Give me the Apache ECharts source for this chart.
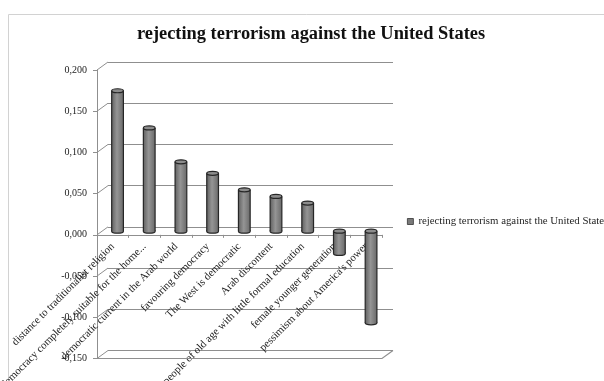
<!DOCTYPE html>
<html>
<head>
<meta charset="utf-8">
<script src="https://cdn.jsdelivr.net/npm/echarts@6/dist/echarts.min.js"></script>
<style>
  html, body { margin: 0; padding: 0; background: #fff; }
  #chart { width: 604px; height: 381px; }
</style>
</head>
<body>
<div id="chart"></div>
<script>
// Data
const categories = [
  'distance to traditionalist religion',
  'democracy completely suitable for the home...',
  'democratic current in the Arab world',
  'favouring democracy',
  'The West is democratic',
  'Arab discontent',
  'people of old age with little formal education',
  'female younger generation',
  "pessimism about America's power"
];
const values = [0.170, 0.125, 0.084, 0.070, 0.050, 0.042, 0.034, -0.027, -0.111];
const seriesName = 'rejecting terrorism against the United States';
const chartTitle = 'rejecting terrorism against the United States';
const yTicks = [-0.15, -0.10, -0.05, 0, 0.05, 0.10, 0.15, 0.20];

// 3D box layout: back wall, bar plane (mid depth) and front plane
const Y_MIN = -0.15, Y_MAX = 0.20, Y_STEP = 0.05;
const back  = { left: 108,   top: 62, width: 285,   height: 288.5 };
const mid   = { left: 101.7, top: 66, width: 285.2, height: 289 };
const front = { left: 97,    top: 70, width: 285,   height: 288.5 };
// upper part of the front plane (max down to zero): carries the category axis
const frontUpper = {
  left: front.left, top: front.top, width: front.width,
  height: front.height * Y_MAX / (Y_MAX - Y_MIN)
};

const SERIF = '"Liberation Serif", "DejaVu Serif", serif';
const GRID_COLOR = '#8f8f8f';

const chart = echarts.init(document.getElementById('chart'), null, { renderer: 'canvas' });

function gridOf(rect) {
  return Object.assign({ containLabel: false, outerBoundsMode: 'none' }, rect);
}

function valueAxis(gridIdx, extra) {
  return Object.assign({
    type: 'value', gridIndex: gridIdx, min: Y_MIN, max: Y_MAX, interval: Y_STEP,
    axisLine: { show: false }, axisTick: { show: false },
    axisLabel: { show: false }, splitLine: { show: false }
  }, extra || {});
}

function cylinder(params, api) {
  const i = api.value(0);
  const v = api.value(1);
  const pv = api.coord([i, v]);
  const p0 = api.coord([i, 0]);
  const w = api.size([1, 0])[0] * 0.37;
  const rx = w / 2, ry = 2;
  const cx = pv[0];
  const yTop = Math.min(pv[1], p0[1]);
  const yBot = Math.max(pv[1], p0[1]);
  const body = new echarts.graphic.LinearGradient(0, 0, 1, 0, [
    { offset: 0, color: '#626262' },
    { offset: 0.45, color: '#959595' },
    { offset: 1, color: '#6a6a6a' }
  ]);
  return {
    type: 'group',
    children: [
      { type: 'ellipse', shape: { cx: cx, cy: yBot, rx: rx, ry: ry },
        style: { fill: body, stroke: '#262626', lineWidth: 1.2 } },
      { type: 'rect', shape: { x: cx - rx, y: yTop, width: w, height: yBot - yTop },
        style: { fill: body } },
      { type: 'line', shape: { x1: cx - rx, y1: yTop, x2: cx - rx, y2: yBot },
        style: { stroke: '#262626', lineWidth: 1.2 } },
      { type: 'line', shape: { x1: cx + rx, y1: yTop, x2: cx + rx, y2: yBot },
        style: { stroke: '#262626', lineWidth: 1.2 } },
      { type: 'ellipse', shape: { cx: cx, cy: yTop, rx: rx, ry: ry },
        style: { fill: '#8c8c8c', stroke: '#262626', lineWidth: 1.2 } }
    ]
  };
}

chart.setOption({
  animation: false,
  backgroundColor: '#ffffff',
  grid: [gridOf(back), gridOf(mid), gridOf(front), gridOf(frontUpper)],
  xAxis: [
    { type: 'category', gridIndex: 0, data: categories, show: false },
    { type: 'category', gridIndex: 1, data: categories, show: false },
    { type: 'category', gridIndex: 2, data: categories, show: false },
    {
      type: 'category', gridIndex: 3, data: categories, position: 'bottom',
      axisLine: { show: true, onZero: false, lineStyle: { color: GRID_COLOR, width: 1 } },
      axisTick: { show: true, length: 3, lineStyle: { color: GRID_COLOR } },
      axisLabel: {
        interval: 0, rotate: 45, margin: 10,
        fontFamily: SERIF, fontSize: 10.8, color: '#1e1e1e'
      },
      splitLine: { show: false }
    }
  ],
  yAxis: [
    valueAxis(0, { splitLine: { show: true, lineStyle: { color: GRID_COLOR, width: 1 } } }),
    valueAxis(1),
    valueAxis(2, {
      axisLine: { show: true, lineStyle: { color: GRID_COLOR, width: 1 } },
      axisTick: { show: true, inside: false, length: 4, lineStyle: { color: GRID_COLOR } },
      axisLabel: {
        show: true, margin: 10, fontFamily: SERIF, fontSize: 10, color: '#222',
        formatter: function (v) { return v.toFixed(3).replace('.', ','); }
      }
    }),
    { type: 'value', gridIndex: 3, min: 0, max: Y_MAX, show: false, splitLine: { show: false } }
  ],
  legend: {
    show: true,
    left: 402, top: 211,
    icon: 'rect', itemWidth: 6, itemHeight: 6,
    textStyle: { fontFamily: SERIF, fontSize: 10.8, color: '#1e1e1e' },
    data: [{ name: seriesName, itemStyle: { color: '#7a7a7a', borderColor: '#333', borderWidth: 0.8 } }]
  },
  series: [{
    name: seriesName,
    type: 'custom',
    xAxisIndex: 1, yAxisIndex: 1,
    renderItem: cylinder,
    itemStyle: { color: '#7a7a7a' },
    data: values.map(function (v, i) { return [i, v]; }),
    z: 5
  }]
});

// Depth edges of the box: left wall diagonals, floor and outer frame
const decor = [];
decor.push({
  type: 'rect', z: -1, silent: true,
  shape: { x: 8.5, y: 14.5, width: 700, height: 500 },
  style: { fill: 'none', stroke: '#d2d2d2', lineWidth: 1 }
});
decor.push({
  type: 'text', z: 10, silent: true,
  style: {
    text: chartTitle, x: 311, y: 34, textAlign: 'center', textVerticalAlign: 'middle',
    font: 'bold 18.4px ' + SERIF, fill: '#111'
  }
});
yTicks.forEach(function (t) {
  const yf = chart.convertToPixel({ yAxisIndex: 2 }, t);
  const yb = chart.convertToPixel({ yAxisIndex: 0 }, t);
  decor.push({
    type: 'line', z: 1, silent: true,
    shape: { x1: front.left, y1: yf, x2: back.left, y2: yb },
    style: { stroke: GRID_COLOR, lineWidth: 1 }
  });
});
const yfMin = chart.convertToPixel({ yAxisIndex: 2 }, Y_MIN);
const ybMin = chart.convertToPixel({ yAxisIndex: 0 }, Y_MIN);
decor.push({
  type: 'polyline', z: 1, silent: true,
  shape: { points: [
    [front.left, yfMin], [front.left + front.width, yfMin],
    [back.left + back.width, ybMin]
  ] },
  style: { stroke: GRID_COLOR, lineWidth: 1.2, fill: 'none' }
});
chart.setOption({ graphic: decor });
</script>
</body>
</html>
